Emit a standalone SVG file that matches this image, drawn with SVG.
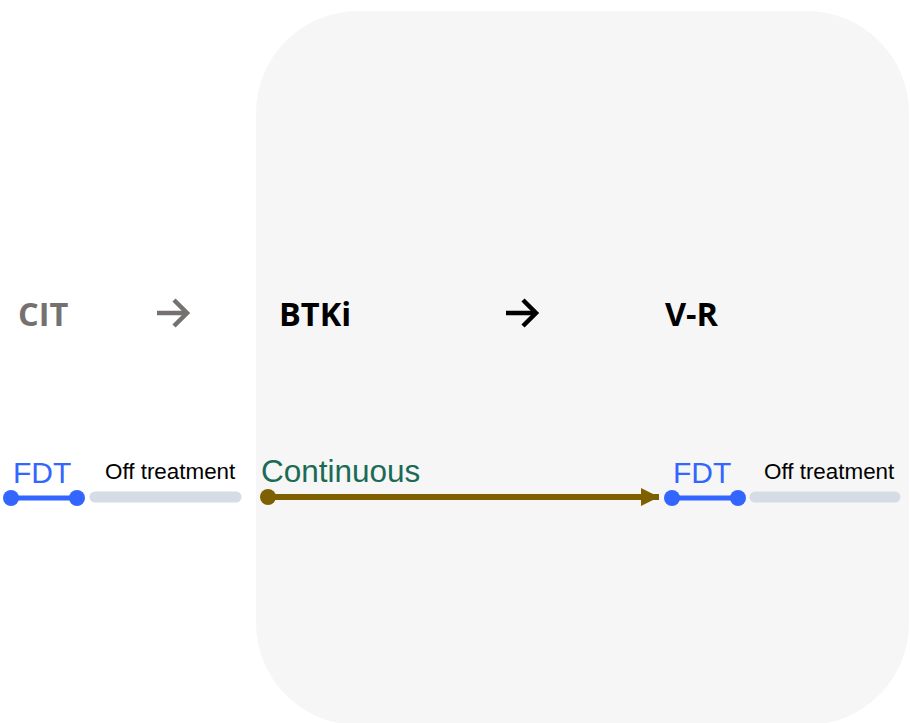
<svg xmlns="http://www.w3.org/2000/svg" width="910" height="723" viewBox="0 0 910 723">
  <defs>
    <marker id="brownHead" viewBox="0 0 10 10" refX="10" refY="5" markerWidth="3" markerHeight="3" markerUnits="strokeWidth" orient="auto">
      <path d="M0,0 L10,5 L0,10 Z" fill="#7f6000"/>
    </marker>
    <style>
      .stage { font-family: "Open Sans", "Liberation Sans", sans-serif; font-weight: bold; font-size: 32.5px; }
      .step { fill: none; stroke-width: 4.5; stroke-linecap: butt; stroke-linejoin: miter; }
      .fdt { font-family: "Liberation Sans", Arial, sans-serif; font-size: 30px; fill: #3366ff; }
      .off { font-family: "Liberation Sans", Arial, sans-serif; font-size: 22.4px; fill: #000000; }
      .cont { font-family: "Liberation Sans", Arial, sans-serif; font-size: 31.5px; fill: #1a6b55; }
      .fdtLine { stroke: #3366ff; stroke-width: 5; }
      .fdtDot { fill: #3366ff; }
      .offBar { stroke: #d6dce5; stroke-width: 11; stroke-linecap: round; }
    </style>
  </defs>

  <!-- shaded panel behind the BTKi and V-R phases -->
  <rect id="panel" x="256" y="11" width="653" height="714" rx="102" ry="102" fill="#f6f6f6"/>

  <!-- treatment stage headings -->
  <g id="cit"><text class="stage" x="18" y="326" fill="#767171">CIT</text></g>
  <g id="btki"><text class="stage" x="279" y="326" fill="#000000">BTKi</text></g>
  <g id="vr"><text class="stage" x="665" y="326" fill="#000000">V-R</text></g>

  <!-- CIT: fixed-duration therapy then off treatment -->
  <g id="cit-fdt">
    <text class="fdt" x="13" y="483">FDT</text>
    <line class="fdtLine" x1="11" y1="498" x2="77" y2="498"/>
    <circle class="fdtDot" cx="11" cy="498" r="8"/>
    <circle class="fdtDot" cx="77" cy="498" r="8"/>
  </g>
  <g id="cit-off">
    <text class="off" x="105" y="479">Off treatment</text>
    <line class="offBar" x1="95" y1="497" x2="236" y2="497"/>
  </g>

  <!-- BTKi: continuous therapy -->
  <g id="btki-continuous">
    <text class="cont" x="261" y="482">Continuous</text>
    <circle cx="268" cy="497" r="8" fill="#7f6000"/>
  </g>

  <!-- V-R: fixed-duration therapy then off treatment -->
  <g id="vr-fdt">
    <text class="fdt" x="673" y="483">FDT</text>
    <line class="fdtLine" x1="672" y1="498" x2="738" y2="498"/>
    <circle class="fdtDot" cx="672" cy="498" r="8"/>
    <circle class="fdtDot" cx="738" cy="498" r="8"/>
  </g>
  <g id="vr-off">
    <text class="off" x="764" y="479">Off treatment</text>
    <line class="offBar" x1="755" y1="497" x2="895" y2="497"/>
  </g>

  <!-- connectors -->
  <g id="connectors">
    <!-- sequence arrows between stages -->
    <g class="step" stroke="#767171">
      <line x1="157" y1="313" x2="187" y2="313"/>
      <polyline points="174,300 187,313 174,326"/>
    </g>
    <g class="step" stroke="#000000">
      <line x1="506" y1="313" x2="536" y2="313"/>
      <polyline points="523,300 536,313 523,326"/>
    </g>
    <!-- continuous treatment line into V-R -->
    <line x1="268" y1="497" x2="659" y2="497" stroke="#7f6000" stroke-width="6" marker-end="url(#brownHead)"/>
  </g>
</svg>
